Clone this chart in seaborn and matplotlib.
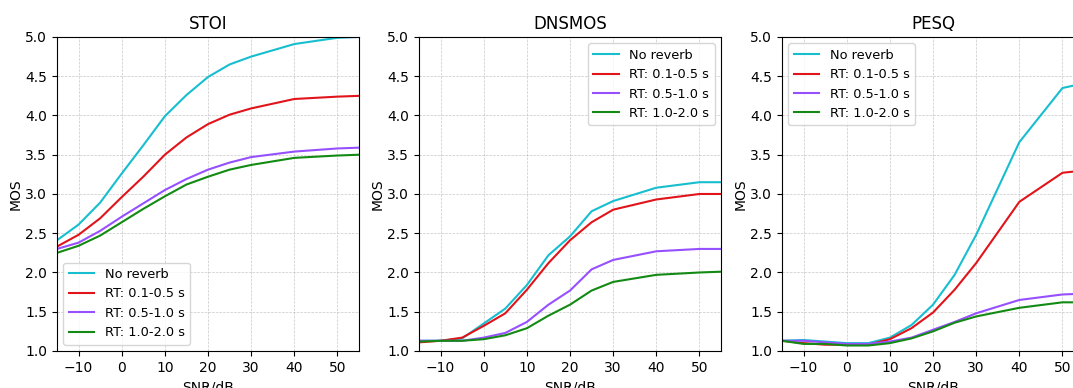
import numpy as np
import pandas as pd
import seaborn as sns
import matplotlib
matplotlib.use("Agg")
import matplotlib.pyplot as plt

# SNR steps (dB)
snr = [-15, -10, -5, 0, 5, 10, 15, 20, 25, 30, 40, 50, 60]
conditions = ["No reverb", "RT: 0.1-0.5 s", "RT: 0.5-1.0 s", "RT: 1.0-2.0 s"]
colors = ["#17becf", "#e0141a", "#9650ff", "#138a13"]

# MOS values
stoi_none = [2.41, 2.61, 2.89, 3.26, 3.62, 3.99, 4.26, 4.49, 4.65, 4.75, 4.91, 4.99, 5.01]
stoi_rt1 = [2.33, 2.48, 2.69, 2.96, 3.22, 3.50, 3.72, 3.89, 4.01, 4.09, 4.21, 4.24, 4.26]
stoi_rt2 = [2.30, 2.38, 2.53, 2.71, 2.88, 3.05, 3.19, 3.31, 3.40, 3.47, 3.54, 3.58, 3.60]
stoi_rt3 = [2.25, 2.34, 2.47, 2.64, 2.81, 2.97, 3.12, 3.22, 3.31, 3.37, 3.46, 3.49, 3.51]

dns_none = [1.13, 1.13, 1.16, 1.35, 1.54, 1.84, 2.22, 2.46, 2.78, 2.91, 3.08, 3.15, 3.15]
dns_rt1 = [1.11, 1.13, 1.17, 1.32, 1.48, 1.78, 2.12, 2.41, 2.64, 2.80, 2.93, 3.00, 3.00]
dns_rt2 = [1.13, 1.13, 1.13, 1.17, 1.23, 1.37, 1.59, 1.77, 2.04, 2.16, 2.27, 2.30, 2.30]
dns_rt3 = [1.12, 1.13, 1.13, 1.15, 1.20, 1.29, 1.45, 1.59, 1.77, 1.88, 1.97, 2.00, 2.02]

pesq_none = [1.13, 1.14, 1.12, 1.10, 1.10, 1.17, 1.33, 1.59, 1.97, 2.48, 3.66, 4.35, 4.47]
pesq_rt1 = [1.13, 1.10, 1.08, 1.08, 1.08, 1.15, 1.29, 1.49, 1.78, 2.12, 2.90, 3.27, 3.33]
pesq_rt2 = [1.13, 1.13, 1.11, 1.09, 1.09, 1.12, 1.17, 1.27, 1.37, 1.48, 1.65, 1.72, 1.74]
pesq_rt3 = [1.13, 1.09, 1.09, 1.07, 1.07, 1.10, 1.16, 1.25, 1.36, 1.44, 1.55, 1.62, 1.62]

panels = [
    ("STOI", [stoi_none, stoi_rt1, stoi_rt2, stoi_rt3], "lower left"),
    ("DNSMOS", [dns_none, dns_rt1, dns_rt2, dns_rt3], "upper right"),
    ("PESQ", [pesq_none, pesq_rt1, pesq_rt2, pesq_rt3], "upper left"),
]

fig = plt.figure(figsize=(10.73, 3.88), dpi=100)
lefts = [0.0531, 0.3905, 0.7288]

for left, (title, series, loc) in zip(lefts, panels):
    ax = fig.add_axes([left, 0.0954, 0.2815, 0.8093])
    for name, vals, c in zip(conditions, series, colors):
        sns.lineplot(x=snr, y=vals, ax=ax, color=c, label=name, linewidth=1.5)
    ax.set_xlim(-15, 55)
    ax.set_ylim(1.0, 5.0)
    ax.set_xticks([-10, 0, 10, 20, 30, 40, 50])
    ax.set_yticks(np.arange(1.0, 5.01, 0.5))
    ax.grid(True, linestyle="--", linewidth=0.5, alpha=0.7)
    ax.set_title(title, fontsize=12)
    ax.set_xlabel("SNR/dB")
    ax.set_ylabel("MOS", labelpad=2)
    ax.legend(loc=loc, fontsize=9.3)

fig.savefig("out.png", dpi=100)
